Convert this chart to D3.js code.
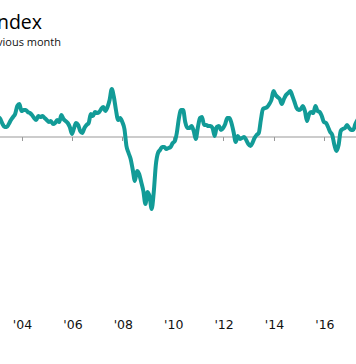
<!DOCTYPE html>
<html>
<head>
<meta charset="utf-8">
<script src="https://cdn.jsdelivr.net/npm/d3@7"></script>
<style>
  html, body { margin: 0; padding: 0; background: #fff; overflow: hidden; }
  svg { display: block; }
</style>
</head>
<body>
<svg id="chart" width="356" height="364"></svg>
<script>
// ---- data ----
const titleText = "Leading Economic Index";
const subtitleText = "% change from previous month";
const firstMonth = "2003-02";
const lastMonth = "2017-05";
const values = [
  0.20, 0.18, 0.13, 0.10, 0.10, 0.13, 0.17, 0.20, 0.23, 0.31, 0.33,
  0.26, 0.27, 0.27, 0.25, 0.24, 0.22, 0.19, 0.17, 0.21, 0.20, 0.21, 0.19,
  0.17, 0.15, 0.16, 0.13, 0.14, 0.17, 0.15, 0.22, 0.18, 0.16, 0.14, 0.10,
  0.03, 0.09, 0.14, 0.12, 0.06, 0.04, 0.09, 0.12, 0.14, 0.23, 0.21, 0.25,
  0.24, 0.25, 0.28, 0.30, 0.26, 0.30, 0.37, 0.48, 0.40, 0.27, 0.17, 0.19,
  0.15, 0.08, -0.09, -0.16, -0.22, -0.33, -0.44, -0.34, -0.37, -0.45, -0.54, -0.67, -0.55, -0.60,
  -0.72, -0.55, -0.28, -0.16, -0.13, -0.10, -0.10, -0.12, -0.11, -0.10, -0.06, -0.04,
  0.04, 0.19, 0.27, 0.27, 0.15, 0.09, 0.09, 0.11, 0.06, -0.02, 0.10, 0.19,
  0.20, 0.12, 0.12, 0.11, 0.11, 0.09, 0.01, 0.10, 0.11, 0.07, 0.09, 0.13,
  0.19, 0.19, 0.14, 0.05, -0.05, 0.01, -0.02, -0.01, 0.00, -0.03, -0.07, -0.09,
  -0.06, -0.01, 0.02, 0.04, 0.17, 0.28, 0.29, 0.30, 0.33, 0.37, 0.46, 0.42,
  0.40, 0.38, 0.33, 0.38, 0.42, 0.44, 0.46, 0.41, 0.35, 0.29, 0.27, 0.28,
  0.31, 0.26, 0.16, 0.23, 0.25, 0.24, 0.31, 0.26, 0.25, 0.21, 0.15, 0.14,
  0.10, 0.05, 0.02, -0.08, -0.14, -0.08, 0.06, 0.08, 0.09, 0.12, 0.09, 0.07,
  0.07, 0.13, 0.17
];
const tickYears = [2004, 2006, 2008, 2010, 2012, 2014, 2016];
const tickLabels = ["'04", "'06", "'08", "'10", "'12", "'14", "'16"];

// ---- build ----
const parseM = d3.timeParse("%Y-%m");
const months = d3.timeMonth.range(parseM(firstMonth), d3.timeMonth.offset(parseM(lastMonth), 1));
const data = months.map((d, i) => ({ date: d, value: values[i] }));

const svg = d3.select("#chart");
const W = 356, H = 364;

const x = d3.scaleTime()
  .domain([new Date(2004, 0, 1), new Date(2016, 0, 1)])
  .range([21.5, 323.9]);
const y = d3.scaleLinear().domain([-1, 1]).range([237, 37]);

// title (cropped at left edge, as in the reference)
svg.append("text")
  .attr("x", 42).attr("y", 29)
  .attr("text-anchor", "end")
  .attr("font-family", "'Open Sans', sans-serif")
  .attr("font-size", 19.5)
  .attr("fill", "#000")
  .text(titleText);
svg.append("text")
  .attr("x", 61).attr("y", 46)
  .attr("text-anchor", "end")
  .attr("font-family", "'Open Sans', sans-serif")
  .attr("font-size", 11)
  .attr("fill", "#111")
  .text(subtitleText);

// zero line axis with ticks
const axisG = svg.append("g").attr("transform", `translate(0,${y(0)})`);
axisG.append("line")
  .attr("x1", 0).attr("x2", W)
  .attr("stroke", "#999").attr("stroke-width", 1);
axisG.selectAll("line.tick")
  .data(tickYears).enter().append("line")
  .attr("class", "tick")
  .attr("x1", d => Math.round(x(new Date(d, 0, 1))) + 0.5)
  .attr("x2", d => Math.round(x(new Date(d, 0, 1))) + 0.5)
  .attr("y1", 0).attr("y2", 4)
  .attr("stroke", "#999").attr("stroke-width", 1);

// tick labels
svg.append("g").selectAll("text")
  .data(tickYears).enter().append("text")
  .attr("x", d => x(new Date(d, 0, 1)) + 1)
  .attr("y", 329)
  .attr("text-anchor", "middle")
  .attr("font-family", "'DejaVu Sans', sans-serif")
  .attr("font-size", 12.5)
  .attr("fill", "#111")
  .text((d, i) => tickLabels[i]);

// line
const line = d3.line()
  .x(d => x(d.date))
  .y(d => y(d.value))
  .curve(d3.curveMonotoneX);

svg.append("path")
  .datum(data)
  .attr("d", line)
  .attr("fill", "none")
  .attr("stroke", "#129b97")
  .attr("stroke-width", 4)
  .attr("stroke-linejoin", "round")
  .attr("stroke-linecap", "round");
</script>
</body>
</html>
